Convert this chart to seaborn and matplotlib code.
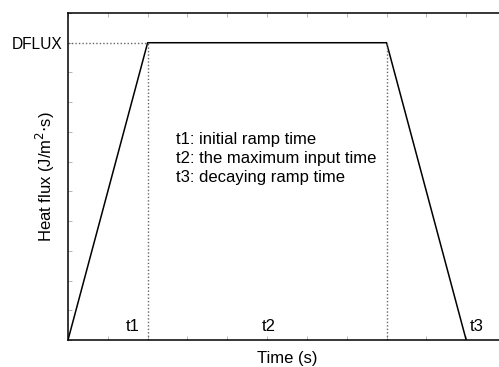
import matplotlib
matplotlib.use("Agg")
import matplotlib.pyplot as plt
import seaborn as sns
import pandas as pd

# Data
time_pts = [0, 2, 8, 10]
flux_pts = [0, 10, 10, 0]
dflux_label = "DFLUX"
phase_labels = ["t1", "t2", "t3"]
legend_lines = ["t1: initial ramp time",
                "t2: the maximum input time",
                "t3: decaying ramp time"]

sns.set_style("white")
plt.rcParams['font.family'] = ['Liberation Sans', 'DejaVu Sans']
plt.rcParams['text.color'] = 'black'
plt.rcParams['axes.labelcolor'] = 'black'
plt.rcParams['ytick.labelcolor'] = 'black'

FS = 11.2
FL = 12

fig = plt.figure(figsize=(4.99, 3.67), dpi=100)
ax = fig.add_axes([68/499, 27/367, 438/499, 327/367])

df = pd.DataFrame({"Time": time_pts, "Flux": flux_pts})
sns.lineplot(data=df, x="Time", y="Flux", ax=ax, color="black", linewidth=1.1)

# dotted guide lines
dot = dict(linestyle=(0, (1, 1.5)), color="#666666", linewidth=1.0)
ax.plot([0, time_pts[1]], [flux_pts[1], flux_pts[1]], **dot)
ax.plot([time_pts[1], time_pts[1]], [0, flux_pts[1]], **dot)
ax.plot([time_pts[2], time_pts[2]], [0, flux_pts[2]], **dot)

ax.set_xlim(0, 11)
ax.set_ylim(0, 11)
ax.set_xticks(range(0, 12))
ax.set_yticks(range(0, 12))
ax.set_xticklabels([])
ax.set_yticklabels(["" if v != flux_pts[1] else dflux_label for v in range(0, 12)], fontsize=FS)
ax.tick_params(axis="both", which="both", direction="in", length=3, width=0.6,
               color="#aaaaaa", labelcolor="black",
               top=True, right=True, bottom=True, left=True, pad=4)

for s in ax.spines.values():
    s.set_color("black")
    s.set_linewidth(1.1)

ax.set_xlabel("Time (s)", fontsize=FL, labelpad=4)
ax.set_ylabel("Heat flux (J/m$^2$$\\cdot$s)", fontsize=FL)
ax.yaxis.set_label_coords(-0.026, 0.5)

# phase labels
ax.text(1.81, 0.3, phase_labels[0], ha="right", va="baseline", fontsize=FL)
ax.text(5.05, 0.3, phase_labels[1], ha="center", va="baseline", fontsize=FL)
ax.text(10.1, 0.3, phase_labels[2], ha="left", va="baseline", fontsize=FL)

for i, line in enumerate(legend_lines):
    ax.text(2.7, 6.75 - i * 0.64, line, ha="left", va="center", fontsize=FL)

fig.savefig("out.png", dpi=100)
